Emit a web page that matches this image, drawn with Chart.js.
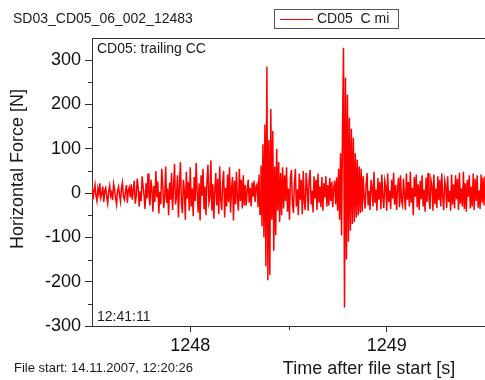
<!DOCTYPE html>
<html>
<head>
<meta charset="utf-8">
<script src="https://cdn.jsdelivr.net/npm/chart.js@4.4.1/dist/chart.umd.min.js"></script>
<style>
  html, body { margin: 0; padding: 0; background: #fff; }
  #wrap { position: relative; width: 485px; height: 380px; }
</style>
</head>
<body>
<div id="wrap"><canvas id="force-chart" width="485" height="380"></canvas></div>
<script>
var seriesLabel = 'CD05  C mi';
var tStart = 1247.5;   // s, first sample
var dt = 0.005;        // s, sample spacing

// Horizontal force [N], one value per sample, split by signal section
var quietStart = [8,-14,3,19,-6,-18,10,-3,22,-11,-2,15,-20,6,12,-9,-24,4,17,-7,
  1,-16,21,9,-12,-26,5,14,-4,-19,11,24,-8,-15,2,18,-22,7,13,-10];
var buildUp = [20,-15,6,28,-24,-8,33,12,-30,4,-18,38,15,-6,-36,22,-12,44,-5,-28,
  30,8,-42,16,-20,50,-10,26,-46,3,-25,55,18,-34,-8,60,-22,10,-50,24];
var approach = [-15,45,-38,12,66,-26,-8,40,-55,18,70,-20,-45,30,5,-60,48,-12,25,-40,
  58,-30,10,-52,36,-18,68,4,-44,22,-62,40,-6,55,-35,15,-50,28,64,-22,
  -10,74,-40,20,-58,6,45,-28,32,-48,60,-15,-38,24,50,-55,12,-30,42,-20,
  58,-44,8,36,-62,28,-25,48,-12,-40,55,-18,30,-35,40,-28];
var preImpact = [18,-28,6,30,-22,12,-30,24,-8,28,-20,15];
var impact1 = [20,-32,42,-48,62,-75,110,-100,155,-165,285,-197,120,-185,190,-60,
  140,-130,60,-95,100,-40,70,-65,45,-50,58,-35];
var between = [40,-18,58,-42,10,-60,35,52,-25,-45,20,55,-30,8,-50,44,-15,30,-48,50,
  -20,-38,46,12,-40,28,52,-26,5,-44,38,-12,30,-38,44,-22,15,-32,36,-40,
  22,-10,38,-30,18,-28,34,-18,26,-32,12,28,-25];
var impact2 = [35,-40,55,-60,90,-95,150,328,-258,260,-150,222,-110,170,-85,145,
  -70,125,-65,90,-55,75,-50,60,-45,55,-42];
var tail = [38,-10,-35,22,45,-28,5,-38,30,12,-30,48,-22,8,-40,34,-15,25,-36,42,
  -8,-34,28,15,-40,44,-20,6,-36,30,-12,46,-26,18,-38,10,35,-32,40,-18,
  -28,33,-5,-38,44,-15,25,-30,48,-22,12,-50,36,-8,42,-32,20,-38,28,-14,
  40,-30,8,-42,35,-20,45,-12,-36,30,18,-40,42,-25,10,-34,38,-16,30,-30,
  44,-10,-38,28,15,-34,38,-20,5,-40,42,-26,20,-35,40,-14,32,-38,46,-24,
  10,-30,48,-36,22,-42,30,-8,40,-35,14,-30,44,-38,32,-18,40,-33,6,-36,
  42,-22,35,-28,38];

var yTickValues = [-300, -200, -100, 0, 100, 200, 300];
var yMinorValues = [-250, -150, -50, 50, 150, 250];
var xTickValues = [1248, 1249];
var xMinorValues = [1248.5];

var forceValues = [].concat(quietStart, buildUp, approach, preImpact, impact1, between, impact2, tail);
var points = forceValues.map(function(v, i) { return { x: tStart + i * dt, y: v }; });

var FONT = "'Liberation Sans', Arial, sans-serif";
var axisColor = '#333';
var textColor = '#1a1a1a';

// frame top edge, minor ticks and free text
var decorations = {
  id: 'decorations',
  afterDraw: function(chart) {
    var ctx = chart.ctx, area = chart.chartArea;
    var xs = chart.scales.x, ys = chart.scales.y;
    ctx.save();
    ctx.strokeStyle = axisColor;
    ctx.lineWidth = 1;
    ctx.beginPath();
    ctx.moveTo(area.left, area.top + 0.5);
    ctx.lineTo(area.right, area.top + 0.5);
    yMinorValues.forEach(function(v) {
      var y = Math.round(ys.getPixelForValue(v)) + 0.5;
      ctx.moveTo(area.left - 4, y); ctx.lineTo(area.left, y);
    });
    xMinorValues.forEach(function(v) {
      var x = Math.round(xs.getPixelForValue(v)) + 0.5;
      ctx.moveTo(x, area.bottom); ctx.lineTo(x, area.bottom + 4);
    });
    ctx.stroke();

    ctx.fillStyle = textColor;
    ctx.textBaseline = 'middle';
    ctx.textAlign = 'left';
    ctx.font = '14px ' + FONT;
    ctx.fillText('SD03_CD05_06_002_12483', 13, 19);
    ctx.fillText('CD05: trailing CC', 97, 49);
    ctx.fillText('12:41:11', 97, 317);
    ctx.font = '13px ' + FONT;
    ctx.fillText('File start: 14.11.2007, 12:20:26', 14, 368);
    ctx.font = '18px ' + FONT;
    ctx.textAlign = 'center';
    ctx.fillText('Time after file start [s]', 369, 369);
    ctx.save();
    ctx.translate(18, 169);
    ctx.rotate(-Math.PI / 2);
    ctx.fillText('Horizontal Force [N]', 0, 0);
    ctx.restore();

    // legend box
    var ds = chart.data.datasets[0];
    ctx.strokeStyle = '#555';
    ctx.strokeRect(274.5, 9.5, 124, 19);
    ctx.strokeStyle = ds.borderColor;
    ctx.lineWidth = 1;
    ctx.beginPath();
    ctx.moveTo(280, 19.5); ctx.lineTo(313, 19.5);
    ctx.stroke();
    ctx.fillStyle = textColor;
    ctx.textAlign = 'left';
    ctx.font = '14px ' + FONT;
    ctx.fillText(ds.label, 317, 19);
    ctx.restore();
  }
};

new Chart(document.getElementById('force-chart'), {
  type: 'line',
  data: {
    datasets: [{
      label: seriesLabel,
      data: points,
      borderColor: '#ff0000',
      borderWidth: 1.5,
      pointRadius: 0,
      tension: 0
    }]
  },
  options: {
    responsive: false, animation: false,
    layout: { padding: { top: 38, left: 0, right: 0, bottom: 0 } },
    plugins: { legend: { display: false }, tooltip: { enabled: false } },
    scales: {
      x: {
        type: 'linear', min: 1247.5, max: 1249.5,
        afterBuildTicks: function(s) { s.ticks = xTickValues.map(function(v) { return { value: v }; }); },
        afterFit: function(s) { s.height = 54; },
        grid: { drawOnChartArea: false, tickLength: 6, color: axisColor },
        border: { color: axisColor },
        ticks: { color: '#111', padding: 3, maxRotation: 0, font: { family: FONT, size: 18 },
          callback: function(v) { return v; } }
      },
      y: {
        min: -300, max: 350,
        afterBuildTicks: function(s) { s.ticks = yTickValues.map(function(v) { return { value: v }; }); },
        afterFit: function(s) { s.width = 92; },
        grid: { drawOnChartArea: false, tickLength: 7, color: axisColor },
        border: { color: axisColor },
        ticks: { color: '#111', padding: 4, font: { family: FONT, size: 18 } }
      }
    }
  },
  plugins: [decorations]
});
</script>
</body>
</html>
